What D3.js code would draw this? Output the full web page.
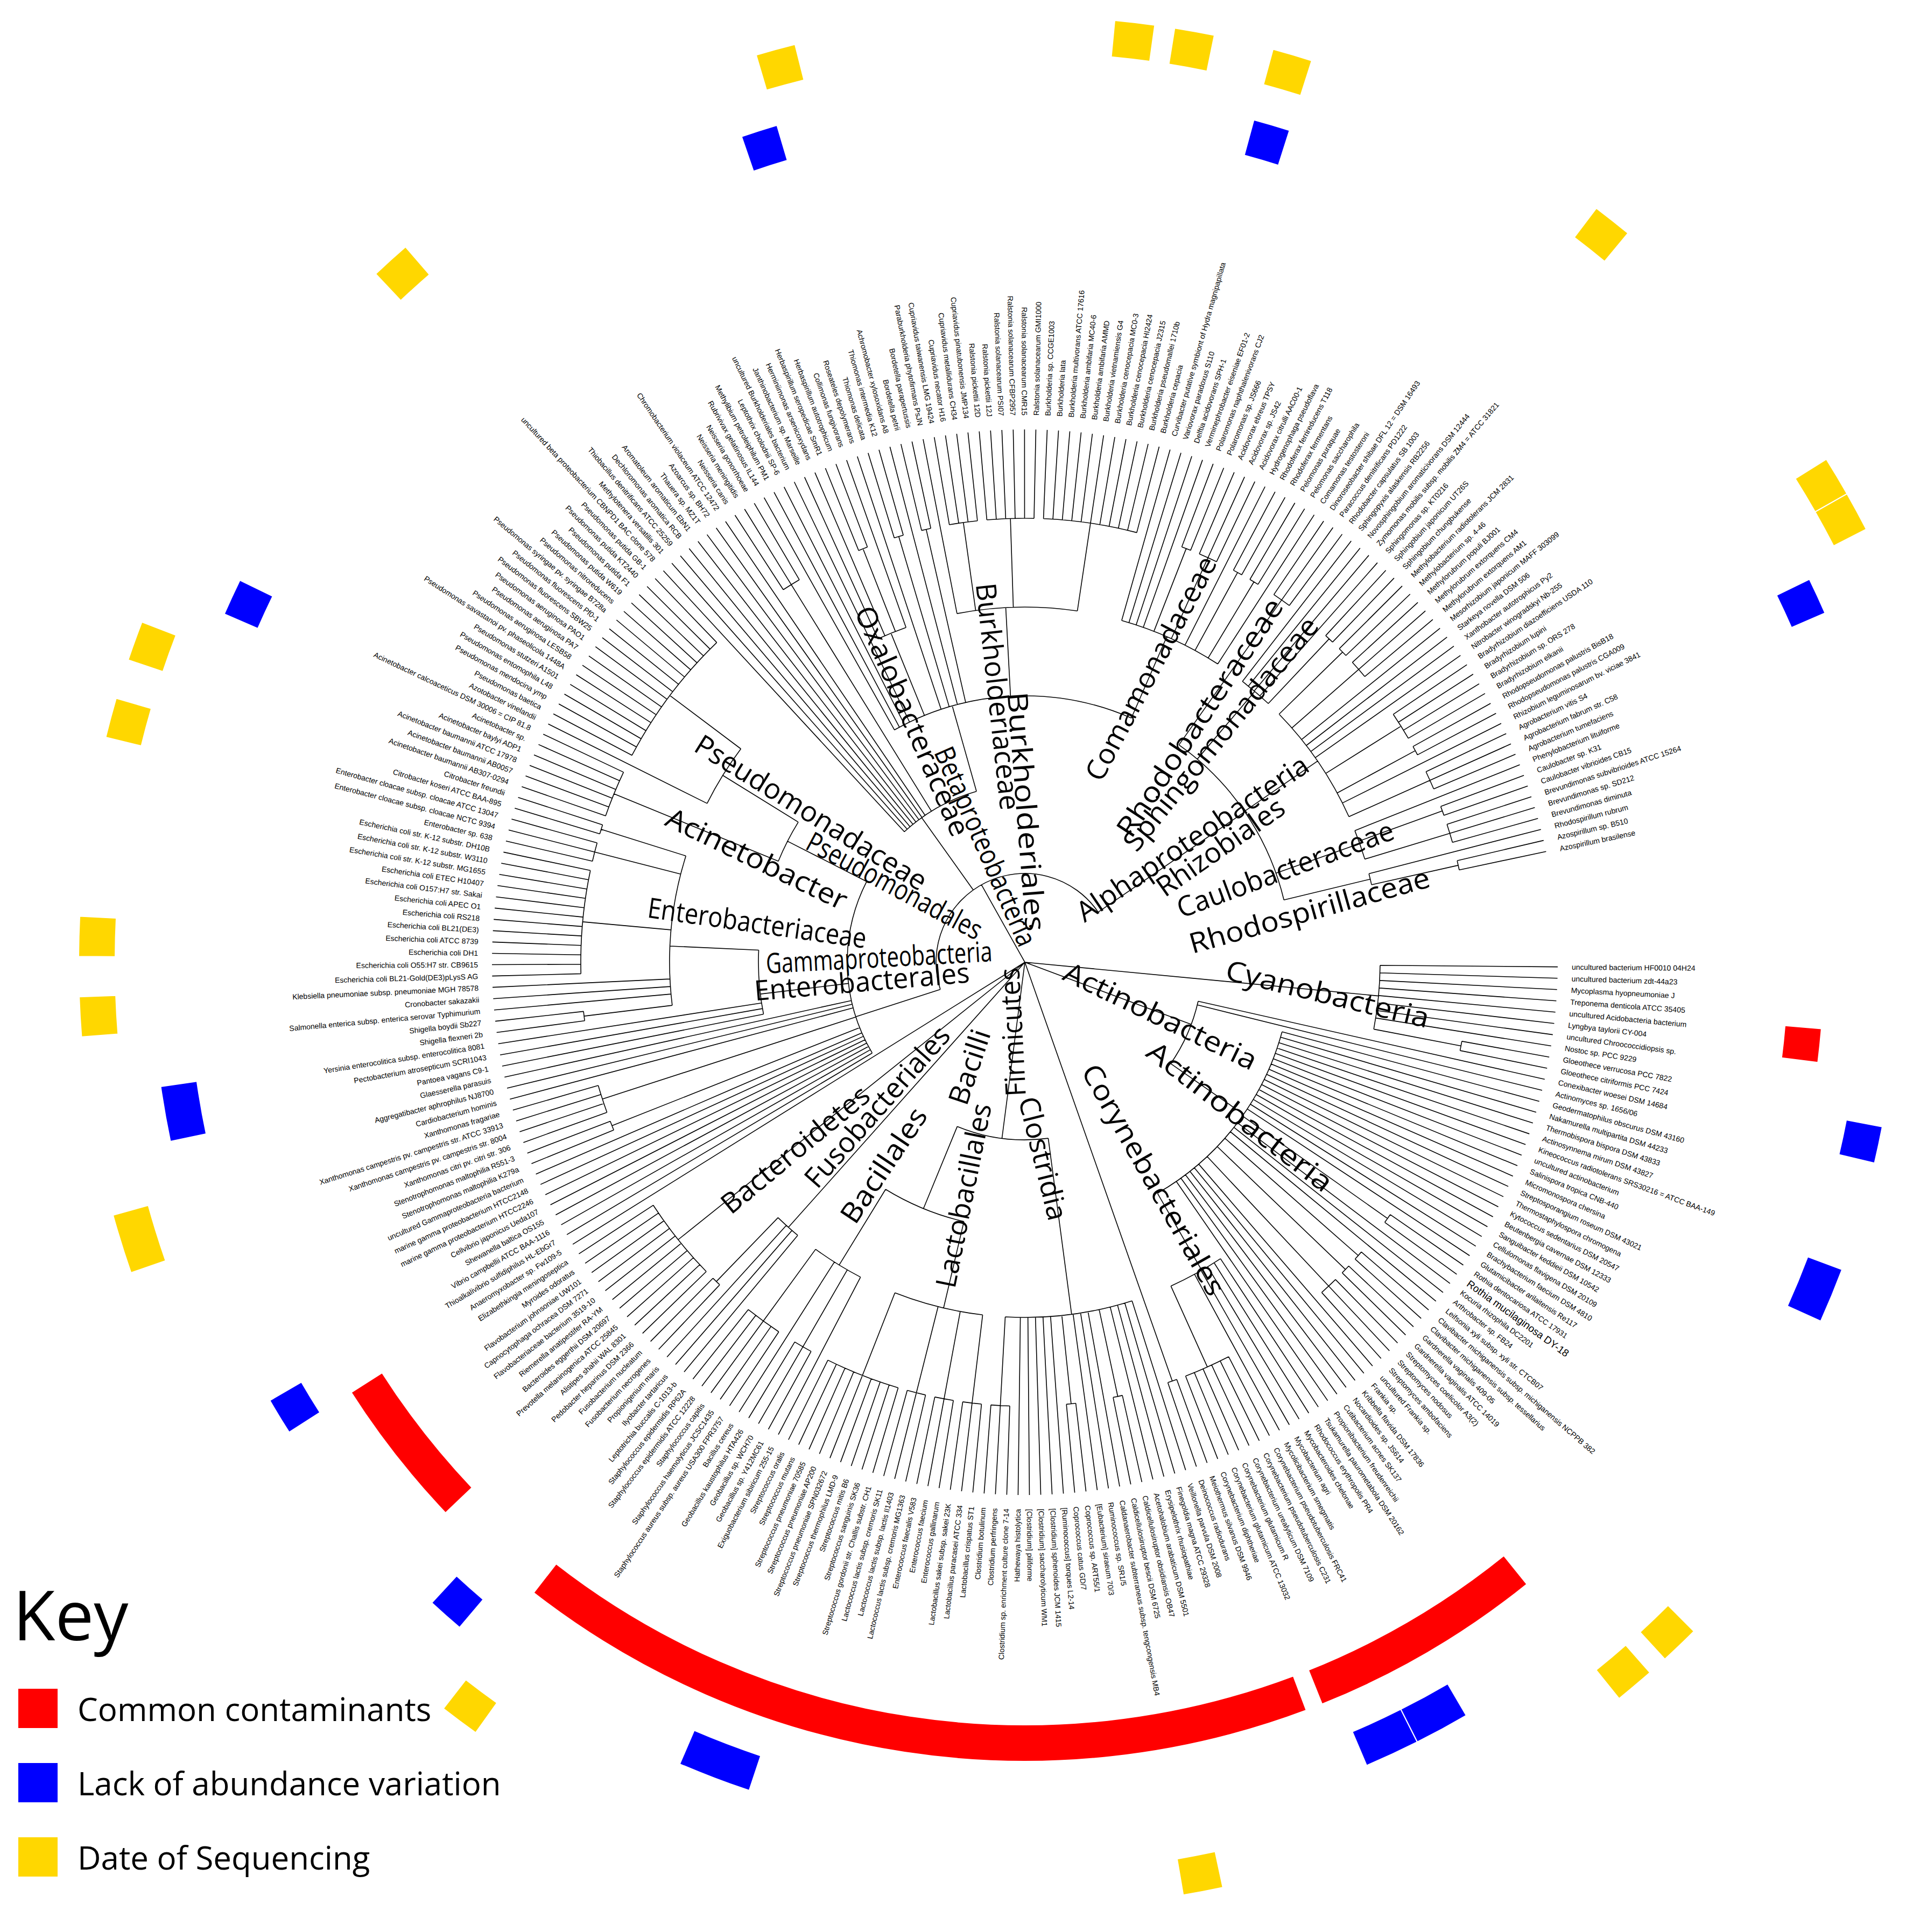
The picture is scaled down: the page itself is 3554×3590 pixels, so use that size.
<!DOCTYPE html>
<html><head><meta charset="utf-8">
<script src="https://cdn.jsdelivr.net/npm/d3@7"></script>
<style>body{margin:0;background:#fff}svg{display:block}</style>
</head><body>
<svg id="chart" width="3554" height="3590"></svg>
<script>
// ---------------- DATA ----------------
const cyanobacteria = ["uncultured bacterium HF0010 04H24","uncultured bacterium zdt-44a23","Mycoplasma hyopneumoniae J","Treponema denticola ATCC 35405","uncultured Acidobacteria bacterium","Lyngbya taylorii CY-004","uncultured Chroococcidiopsis sp.","Nostoc sp. PCC 9229","Gloeothece verrucosa PCC 7822","Gloeothece citriformis PCC 7424"];
const actinoBasal = ["Conexibacter woesei DSM 14684","Actinomyces sp. 1656/06"];
const actinoClass = ["Geodermatophilus obscurus DSM 43160","Nakamurella multipartita DSM 44233","Thermobispora bispora DSM 43833","Actinosynnema mirum DSM 43827","Kineococcus radiotolerans SRS30216 = ATCC BAA-149","uncultured actinobacterium","Salinispora tropica CNB-440","Micromonospora chersina","Streptosporangium roseum DSM 43021","Thermostaphylospora chromogena","Kytococcus sedentarius DSM 20547","Beutenbergia cavernae DSM 12333","Sanguibacter keddieii DSM 10542","Cellulomonas flavigena DSM 20109","Brachybacterium faecium DSM 4810","Glutamicibacter arilaitensis Re117","Rothia dentocariosa ATCC 17931","Rothia mucilaginosa DY-18","Kocuria rhizophila DC2201","Arthrobacter sp. FB24","Leifsonia xyli subsp. xyli str. CTCB07","Clavibacter michiganensis subsp. michiganensis NCPPB 382","Clavibacter michiganensis subsp. tessellarius","Gardnerella vaginalis 409-05","Gardnerella vaginalis ATCC 14019","Streptomyces coelicolor A3(2)","Streptomyces nodosus","Streptomyces ambofaciens","uncultured Frankia sp.","Frankia sp.","Kribbella flavida DSM 17836","Nocardioides sp. JS614","Cutibacterium acnes SK137","Propionibacterium freudenreichii"];
const corynebacteriales = ["Tsukamurella paurometabola DSM 20162","Rhodococcus erythropolis PR4","Mycobacteroides chelonae","Mycobacterium agri","Mycolicibacterium smegmatis","Corynebacterium pseudotuberculosis FRC41","Corynebacterium pseudotuberculosis C231","Corynebacterium urealyticum DSM 7109","Corynebacterium glutamicum R","Corynebacterium glutamicum ATCC 13032","Corynebacterium diphtheriae"];
const deinococcusThermus = ["Meiothermus silvanus DSM 9946","Deinococcus radiodurans"];
const clostridia = ["Veillonella parvula DSM 2008","Finegoldia magna ATCC 29328","Erysipelothrix rhusiopathiae","Acetohalobium arabaticum DSM 5501","Caldicellulosiruptor obsidiansis OB47","Caldicellulosiruptor bescii DSM 6725","Caldanaerobacter subterraneus subsp. tengcongensis MB4","Ruminococcus sp. SR1/5","[Eubacterium] siraeum 70/3","Coprococcus sp. ART55/1","Coprococcus catus GD/7","[Ruminococcus] torques L2-14","[Clostridium] sphenoides JCM 1415","[Clostridium] saccharolyticum WM1","[Clostridium] piliforme","Hathewaya histolytica","Clostridium sp. enrichment culture clone 7-14","Clostridium perfringens","Clostridium botulinum"];
const lactobacillales = ["Lactobacillus crispatus ST1","Lactobacillus paracasei ATCC 334","Lactobacillus sakei subsp. sakei 23K","Enterococcus gallinarum","Enterococcus faecium","Enterococcus faecalis V583","Lactococcus lactis subsp. cremoris MG1363","Lactococcus lactis subsp. lactis Il1403","Lactococcus lactis subsp. cremoris SK11","Streptococcus gordonii str. Challis substr. CH1","Streptococcus sanguinis SK36","Streptococcus mitis B6","Streptococcus thermophilus LMD-9","Streptococcus pneumoniae SPN032672","Streptococcus pneumoniae AP200","Streptococcus pneumoniae 70585","Streptococcus mutans","Streptococcus oralis"];
const bacillales = ["Exiguobacterium sibiricum 255-15","Geobacillus sp. Y412MC61","Geobacillus sp. WCH70","Geobacillus kaustophilus HTA426","Bacillus cereus","Staphylococcus aureus subsp. aureus USA300 FPR3757","Staphylococcus haemolyticus JCSC1435","Staphylococcus capitis","Staphylococcus epidermidis ATCC 12228","Staphylococcus epidermidis RP62A"];
const fusobacteriales = ["Leptotrichia buccalis C-1013-b","Ilyobacter tartaricus","Propionigenium maris","Fusobacterium necrogenes","Fusobacterium nucleatum"];
const bacteroidetes = ["Pedobacter heparinus DSM 2366","Alistipes shahii WAL 8301","Prevotella melaninogenica ATCC 25845","Bacteroides eggerthii DSM 20697","Riemerella anatipestifer RA-YM","Flavobacteriaceae bacterium 3519-10","Capnocytophaga ochracea DSM 7271","Flavobacterium johnsoniae UW101","Myroides odoratus","Elizabethkingia meningoseptica"];
const deltaproteobacteria = ["Anaeromyxobacter sp. Fw109-5"];
const gammaOther = ["Thioalkalivibrio sulfidiphilus HL-EbGr7","Vibrio campbellii ATCC BAA-1116","Shewanella baltica OS155","Cellvibrio japonicus Ueda107","marine gamma proteobacterium HTCC2246","marine gamma proteobacterium HTCC2148","uncultured Gammaproteobacteria bacterium","Stenotrophomonas maltophilia K279a","Stenotrophomonas maltophilia R551-3","Xanthomonas citri pv. citri str. 306","Xanthomonas campestris pv. campestris str. 8004","Xanthomonas campestris pv. campestris str. ATCC 33913","Xanthomonas fragariae","Cardiobacterium hominis","Aggregatibacter aphrophilus NJ8700","Glaesserella parasuis"];
const enterobacteralesOther = ["Pantoea vagans C9-1","Pectobacterium atrosepticum SCRI1043","Yersinia enterocolitica subsp. enterocolitica 8081"];
const enterobacteriaceae = ["Shigella flexneri 2b","Shigella boydii Sb227","Salmonella enterica subsp. enterica serovar Typhimurium","Cronobacter sakazakii","Klebsiella pneumoniae subsp. pneumoniae MGH 78578","Escherichia coli BL21-Gold(DE3)pLysS AG","Escherichia coli O55:H7 str. CB9615","Escherichia coli DH1","Escherichia coli ATCC 8739","Escherichia coli BL21(DE3)","Escherichia coli RS218","Escherichia coli APEC O1","Escherichia coli O157:H7 str. Sakai","Escherichia coli ETEC H10407","Escherichia coli str. K-12 substr. MG1655","Escherichia coli str. K-12 substr. W3110","Escherichia coli str. K-12 substr. DH10B","Enterobacter sp. 638","Enterobacter cloacae subsp. cloacae NCTC 9394","Enterobacter cloacae subsp. cloacae ATCC 13047","Citrobacter koseri ATCC BAA-895","Citrobacter freundii"];
const acinetobacter = ["Acinetobacter baumannii AB307-0294","Acinetobacter baumannii AB0057","Acinetobacter baumannii ATCC 17978","Acinetobacter baylyi ADP1","Acinetobacter sp.","Acinetobacter calcoaceticus DSM 30006 = CIP 81.8"];
const pseudomonadaceae = ["Azotobacter vinelandii","Pseudomonas baetica","Pseudomonas mendocina ymp","Pseudomonas entomophila L48","Pseudomonas stutzeri A1501","Pseudomonas savastanoi pv. phaseolicola 1448A","Pseudomonas aeruginosa LESB58","Pseudomonas aeruginosa PA7","Pseudomonas aeruginosa PAO1","Pseudomonas fluorescens SBW25","Pseudomonas fluorescens Pf0-1","Pseudomonas syringae pv. syringae B728a","Pseudomonas nitroreducens","Pseudomonas putida W619","Pseudomonas putida F1","Pseudomonas putida KT2440","Pseudomonas putida GB-1"];
const betaOther = ["uncultured beta proteobacterium CBNPD1 BAC clone 578","Methylotenera versatilis 301","Thiobacillus denitrificans ATCC 25259","Dechloromonas aromatica RCB","Aromatoleum aromaticum EbN1","Thauera sp. MZ1T","Azoarcus sp. BH72","Chromobacterium violaceum ATCC 12472","Neisseria canis","Neisseria meningitidis","Neisseria gonorrhoeae"];
const burkholderialesA = ["Rubrivivax gelatinosus IL144","Methylibium petroleiphilum PM1","Leptothrix cholodnii SP-6","uncultured Burkholderiales bacterium"];
const oxalobacteraceae = ["Janthinobacterium sp. Marseille","Herminiimonas arsenicoxydans","Herbaspirillum seropedicae SmR1","Herbaspirillum autotrophicum","Collimonas fungivorans"];
const burkholderialesB = ["Roseateles depolymerans","Thiomonas delicata","Thiomonas intermedia K12","Achromobacter xylosoxidans A8","Bordetella petrii","Bordetella parapertussis"];
const burkholderiaceae = ["Paraburkholderia phytofirmans PsJN","Cupriavidus taiwanensis LMG 19424","Cupriavidus necator H16","Cupriavidus metallidurans CH34","Cupriavidus pinatubonensis JMP134","Ralstonia pickettii 12D","Ralstonia pickettii 12J","Ralstonia solanacearum PSI07","Ralstonia solanacearum CFBP2957","Ralstonia solanacearum CMR15","Ralstonia solanacearum GMI1000","Burkholderia sp. CCGE1003","Burkholderia lata","Burkholderia multivorans ATCC 17616","Burkholderia ambifaria MC40-6","Burkholderia ambifaria AMMD","Burkholderia vietnamiensis G4","Burkholderia cenocepacia MC0-3","Burkholderia cenocepacia HI2424","Burkholderia cenocepacia J2315","Burkholderia pseudomallei 1710b","Burkholderia cepacia"];
const comamonadaceae = ["Curvibacter putative symbiont of Hydra magnipapillata","Variovorax paradoxus S110","Delftia acidovorans SPH-1","Verminephrobacter eiseniae EF01-2","Polaromonas naphthalenivorans CJ2","Polaromonas sp. JS666","Acidovorax ebreus TPSY","Acidovorax sp. JS42","Acidovorax citrulli AAC00-1","Hydrogenophaga pseudoflava","Rhodoferax ferrireducens T118","Rhodoferax fermentans","Pelomonas puraquae","Pelomonas saccharophila","Comamonas testosteroni"];
const rhodobacteraceae = ["Dinoroseobacter shibae DFL 12 = DSM 16493","Paracoccus denitrificans PD1222","Rhodobacter capsulatus SB 1003"];
const sphingomonadaceae = ["Sphingopyxis alaskensis RB2256","Novosphingobium aromaticivorans DSM 12444","Zymomonas mobilis subsp. mobilis ZM4 = ATCC 31821","Sphingomonas sp. KT0216","Sphingobium japonicum UT26S","Sphingobium chungbukense"];
const rhizobiales = ["Methylobacterium radiotolerans JCM 2831","Methylobacterium sp. 4-46","Methylorubrum populi BJ001","Methylorubrum extorquens CM4","Methylorubrum extorquens AM1","Mesorhizobium japonicum MAFF 303099","Starkeya novella DSM 506","Xanthobacter autotrophicus Py2","Nitrobacter winogradskyi Nb-255","Bradyrhizobium diazoefficiens USDA 110","Bradyrhizobium lupini","Bradyrhizobium sp. ORS 278","Bradyrhizobium elkanii","Rhodopseudomonas palustris BisB18","Rhodopseudomonas palustris CGA009","Rhizobium leguminosarum bv. viciae 3841","Agrobacterium vitis S4","Agrobacterium fabrum str. C58","Agrobacterium tumefaciens"];
const caulobacteraceae = ["Phenylobacterium lituiforme","Caulobacter sp. K31","Caulobacter vibrioides CB15","Brevundimonas subvibrioides ATCC 15264","Brevundimonas sp. SD212","Brevundimonas diminuta"];
const rhodospirillaceae = ["Rhodospirillum rubrum","Azospirillum sp. B510","Azospirillum brasilense"];

// annotation rings: [first leaf index, last leaf index]
const commonContaminants = [[4,5],[42,55],[57,104],[112,120]];
const lackOfAbundanceVariation = [[9,10],[17,19],[49,51],[52,54],[89,92],[107,108],[121,122],[138,140],[167,168],[206,207],[234,235],[274,275]];
const dateOfSequencing = [[37,38],[40,41],[64,65],[103,104],[132,134],[144,145],[148,149],[159,160],[163,164],[186,187],[208,209],[226,227],[229,230],[234,235],[252,253],[269,270],[271,272]];
const emphasizedLeaves = ["Rothia mucilaginosa DY-18"];
const legendItems = ["Common contaminants","Lack of abundance variation","Date of Sequencing"];
const legendColors = ["#ff0000","#0000ff","#ffd700"];

// clade label annotations: [text, dx, dy, direction(deg), length] (offsets from tree root, px)
const cladeLabels = [
 ["Cyanobacteria",563,57,13.6,387],["Actinobacteria",253,98,25.8,392],["Actinobacteria",401,285,37.7,420],
 ["Corynebacteriales",241,403,60.4,485],["Clostridia",36,364,76,235],["Firmicutes",-25,130,-93,239],
 ["Lactobacillales",-116,433,-78.7,348],["Bacilli",-105,194,-71.6,144],["Bacillales",-264,376,-56.3,246],
 ["Fusobacteriales",-276,267,-48.7,379],["Bacteroidetes",-428,346,-39.6,340],["Enterobacterales",-303,34,-4.9,401],
 ["Gammaproteobacteria",-271,-11,-3.1,421],["Enterobacteriaceae",-497,-75,8.1,410],["Acinetobacter",-497,-194,25.8,367],
 ["Pseudomonadaceae",-396,-280,31.9,497],["Pseudomonadales",-241,-144,28.2,362],["Oxalobacteraceae",-207,-449,66.6,460],
 ["Betaproteobacteria",-71,-216,66.4,398],["Burkholderiaceae",-48,-494,83.8,424],["Burkholderiales",5,-280,85.6,446],
 ["Comamonadaceae",232,-547,-62.2,463],["Rhodobacteraceae",323,-456,-56.7,518],["Sphingomonadaceae",362,-426,-51,542],
 ["Alphaproteobacteria",310,-232,-34,508],["Rhizobiales",362,-216,-35,278],["Caulobacteraceae",483,-175,-20.4,426],
 ["Rhodospirillaceae",528,-98,-15.7,462]
];

// ---------------- TREE ----------------
function genusSplit(names){
  const key = n => (/^(uncultured|\[|marine)/.test(n) ? n : n.split(" ")[0]);
  const out=[]; let i=0;
  const allSame = names.every(n=>key(n)===key(names[0]));
  while(i<names.length){
    let j=i; while(j+1<names.length && key(names[j+1])===key(names[i])) j++;
    if(j>i && !allSame) out.push({name:key(names[i]),children:names.slice(i,j+1).map(n=>({name:n,leaf:true}))});
    else for(let k=i;k<=j;k++) out.push({name:names[k],leaf:true});
    i=j+1;
  }
  return out;
}
const N=(name,children)=>({name,children});
const treeData = N("root",[
  N("Cyanobacteria",genusSplit(cyanobacteria)),
  N("Actinobacteria",[...genusSplit(actinoBasal),N("Actinobacteria class",[...genusSplit(actinoClass),N("Corynebacteriales",genusSplit(corynebacteriales))])]),
  N("Deinococcus-Thermus",genusSplit(deinococcusThermus)),
  N("Firmicutes",[N("Clostridia",genusSplit(clostridia)),N("Bacilli",[N("Lactobacillales",genusSplit(lactobacillales)),N("Bacillales",genusSplit(bacillales))])]),
  N("Fusobacteriales",genusSplit(fusobacteriales)),
  N("Bacteroidetes",genusSplit(bacteroidetes)),
  {name:deltaproteobacteria[0],leaf:true},
  N("Proteobacteria",[
    N("Gammaproteobacteria",[...genusSplit(gammaOther),
      N("Enterobacterales",[...genusSplit(enterobacteralesOther),N("Enterobacteriaceae",genusSplit(enterobacteriaceae))]),
      N("Pseudomonadales",[N("Acinetobacter",genusSplit(acinetobacter)),N("Pseudomonadaceae",genusSplit(pseudomonadaceae))])]),
    N("Betaproteobacteria",[...genusSplit(betaOther),
      N("Burkholderiales",[...genusSplit(burkholderialesA),N("Oxalobacteraceae",genusSplit(oxalobacteraceae)),...genusSplit(burkholderialesB),N("Burkholderiaceae",genusSplit(burkholderiaceae)),N("Comamonadaceae",genusSplit(comamonadaceae))])]),
    N("Alphaproteobacteria",[N("Rhodobacteraceae",genusSplit(rhodobacteraceae)),N("Sphingomonadaceae",genusSplit(sphingomonadaceae)),N("Rhizobiales",genusSplit(rhizobiales)),N("Caulobacteraceae",genusSplit(caulobacteraceae)),N("Rhodospirillaceae",genusSplit(rhodospirillaceae))])
  ])
]);

// ---------------- LAYOUT ----------------
const cx=1904, cy=1788, tipR=990, labelR=1016;
const A0=0.5, A1=348;
const root=d3.hierarchy(treeData);
const leaves=root.leaves();
const angle=d3.scaleLinear().domain([0,leaves.length-1]).range([A0,A1]);
const step=angle(1)-angle(0);
d3.cluster().size([1,tipR]).separation(()=>1)(root);
leaves.forEach((l,i)=>{l.theta=angle(i);});
root.eachAfter(n=>{ if(n.children){ n.theta=d3.mean(n.children,c=>c.theta); }});
const rad=d=>d*Math.PI/180;
const P=(r,t)=>[r*Math.cos(rad(t)),r*Math.sin(rad(t))];

const svg=d3.select("#chart");
const g=svg.append("g").attr("transform",`translate(${cx},${cy})`);

// links
let d="";
root.descendants().forEach(n=>{
  if(!n.children) return;
  const r=n.y, t0=d3.min(n.children,c=>c.theta), t1=d3.max(n.children,c=>c.theta);
  const [x0,y0]=P(r,t0),[x1,y1]=P(r,t1);
  d+=`M${x0},${y0}A${r},${r} 0 ${t1-t0>180?1:0} 1 ${x1},${y1}`;
  n.children.forEach(c=>{const [a,b]=P(r,c.theta),[e,f]=P(c.y,c.theta); d+=`M${a},${b}L${e},${f}`;});
});
g.append("path").attr("d",d).attr("fill","none").attr("stroke","#000").attr("stroke-width",1.6);

// leaf labels
g.append("g").selectAll("text").data(leaves).join("text")
  .attr("transform",l=>{const f=l.theta>90&&l.theta<270;return `rotate(${l.theta}) translate(${labelR},0)`+(f?" rotate(180)":"");})
  .attr("text-anchor",l=>(l.theta>90&&l.theta<270)?"end":"start")
  .attr("dominant-baseline","central")
  .attr("font-family","Liberation Sans, Arial, sans-serif")
  .attr("font-size",l=>emphasizedLeaves.includes(l.data.name)?19:14)
  .text(l=>l.data.name);

// rings
function ring(ranges,ri,ro,color){
  const arc=d3.arc().innerRadius(ri).outerRadius(ro);
  g.append("g").selectAll("path").data(ranges).join("path")
    .attr("d",r=>arc({startAngle:rad(angle(r[0])-step/2+90),endAngle:rad(angle(r[1])+step/2+90)}))
    .attr("fill",color).attr("stroke","#fff").attr("stroke-width",2);
}
ring(commonContaminants,1417,1485,legendColors[0]);
ring(lackOfAbundanceVariation,1554,1622,legendColors[1]);
ring(dateOfSequencing,1690,1758,legendColors[2]);

// clade labels
g.append("g").selectAll("text").data(cladeLabels).join("text")
  .attr("transform",c=>`translate(${c[1]},${c[2]}) rotate(${c[3]})`)
  .attr("text-anchor","middle").attr("dominant-baseline","central")
  .attr("font-family","Open Sans, sans-serif").attr("font-size",52)
  .attr("textLength",c=>c[4]).attr("lengthAdjust","spacingAndGlyphs")
  .text(c=>c[0]);

// legend
const lg=svg.append("g");
lg.append("text").attr("x",24).attr("y",3048).attr("font-family","Open Sans, sans-serif").attr("font-size",128).text("Key");
legendItems.forEach((t,i)=>{
  const y=3175+i*138;
  lg.append("rect").attr("x",34).attr("y",y-37).attr("width",73).attr("height",73).attr("fill",legendColors[i]);
  lg.append("text").attr("x",144).attr("y",y).attr("dominant-baseline","central").attr("font-family","Open Sans, sans-serif").attr("font-size",60).text(t);
});
</script>
</body></html>
